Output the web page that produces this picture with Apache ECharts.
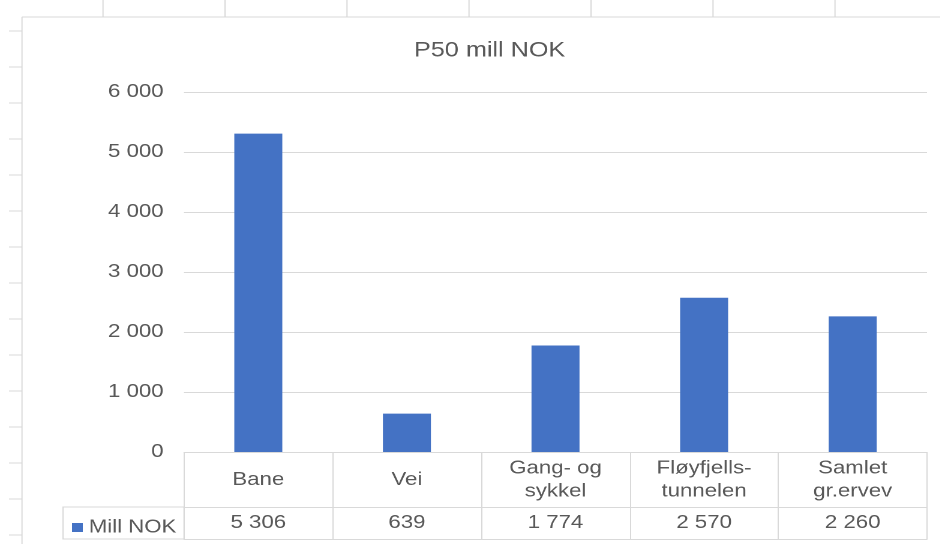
<!DOCTYPE html>
<html>
<head>
<meta charset="utf-8">
<title>P50 mill NOK</title>
<script src="https://cdn.jsdelivr.net/npm/echarts@6/dist/echarts.min.js"></script>
<style>
  html, body { margin: 0; padding: 0; background: #ffffff; overflow: hidden; }
  #wrap { width: 940px; height: 544px; overflow: hidden; position: relative; }
  #chart { position: absolute; left: 0; top: 0; height: 544px; transform-origin: 0 0; }
</style>
</head>
<body>
<div id="wrap"><div id="chart"></div></div>
<script>
// Categories (as wrapped in the data table), values and axis ticks
const categories = ['Bane', 'Vei', 'Gang- og\nsykkel', 'Fløyfjells-\ntunnelen', 'Samlet\ngr.ervev'];
const values = [5306, 639, 1774, 2570, 2260];
const seriesName = 'Mill NOK';
const chartTitle = 'P50 mill NOK';
const yTicks = [0, 1000, 2000, 3000, 4000, 5000, 6000];

// The sheet is drawn slightly wide: the canvas is rendered narrower and stretched horizontally
const SX = 1.2;
const W = 940 / SX;
const el = document.getElementById('chart');
el.style.width = W + 'px';
el.style.transform = 'scaleX(' + SX + ')';

const TEXT = '#595959';
const LINE = '#d9d9d9';
const FONT = '"Liberation Sans", Arial, sans-serif';
const fmt = v => String(v).replace(/\B(?=(\d{3})+(?!\d))/g, ' ');

// Plot and table geometry (unstretched pixels)
const plotLeft = 184 / SX, plotRight = 927 / SX;
const plotTop = 92, plotBottom = 452;
const row1 = 55, row2 = 32;           // table row heights
const legendLeft = 63 / SX;

// Sheet frame: chart border plus the worksheet ruler ticks around it
const frameX = 22 / SX, frameY = 17;
const graphics = [
  { type: 'line', silent: true, shape: { x1: frameX, y1: frameY, x2: W, y2: frameY }, style: { stroke: LINE, lineWidth: 1 } },
  { type: 'line', silent: true, shape: { x1: frameX, y1: frameY, x2: frameX, y2: 544 }, style: { stroke: LINE, lineWidth: 1 } },
  // legend cell of the data table
  { type: 'rect', silent: true,
    shape: { x: legendLeft, y: plotBottom + row1, width: plotLeft - legendLeft, height: row2 },
    style: { fill: 'none', stroke: LINE, lineWidth: 1 } }
];
for (let k = 0; k < 8; k++) {
  const x = (103 + 122 * k) / SX;
  graphics.push({ type: 'line', silent: true, shape: { x1: x, y1: 0, x2: x, y2: frameY }, style: { stroke: LINE, lineWidth: 1 } });
}
for (let k = 0; k < 15; k++) {
  const y = 31 + 36 * k;
  graphics.push({ type: 'line', silent: true, shape: { x1: 9 / SX, y1: y, x2: frameX, y2: y }, style: { stroke: LINE, lineWidth: 1 } });
}

const chart = echarts.init(el, null, { renderer: 'canvas', devicePixelRatio: 2 });

chart.setOption({
  backgroundColor: '#ffffff',
  animation: false,
  textStyle: { fontFamily: FONT },
  title: {
    text: chartTitle,
    left: 340,
    top: 35,
    textStyle: { color: TEXT, fontSize: 21, fontWeight: 'normal', fontFamily: FONT }
  },
  legend: {
    data: [seriesName],
    left: 60,
    top: plotBottom + row1 + 11,
    icon: 'rect',
    itemWidth: 9,
    itemHeight: 9,
    itemGap: 5,
    textStyle: { color: TEXT, fontSize: 18.5, fontFamily: FONT, padding: [0, 0, 0, 0] },
    padding: 0
  },
  grid: {
    left: plotLeft,
    width: plotRight - plotLeft,
    top: plotTop,
    height: plotBottom - plotTop,
    containLabel: false
  },
  xAxis: [
    {
      type: 'category',
      data: categories,
      position: 'bottom',
      axisLine: { show: true, lineStyle: { color: LINE, width: 1 } },
      axisTick: { show: true, alignWithLabel: false, length: row1 + row2, lineStyle: { color: LINE, width: 1 } },
      axisLabel: {
        interval: 0, margin: 28, verticalAlign: 'middle',
        color: TEXT, fontSize: 18.5, lineHeight: 23, fontFamily: FONT
      },
      splitLine: { show: false }
    },
    {
      type: 'category',
      data: values.map(fmt),
      position: 'bottom',
      offset: row1,
      axisLine: { show: true, lineStyle: { color: LINE, width: 1 } },
      axisTick: { show: false },
      axisLabel: {
        interval: 0, margin: 16, verticalAlign: 'middle',
        color: TEXT, fontSize: 18.5, fontFamily: FONT
      }
    },
    {
      type: 'category',
      data: categories,
      position: 'bottom',
      offset: row1 + row2,
      axisLine: { show: true, lineStyle: { color: LINE, width: 1 } },
      axisTick: { show: false },
      axisLabel: { show: false }
    }
  ],
  yAxis: {
    type: 'value',
    min: yTicks[0],
    max: yTicks[yTicks.length - 1],
    interval: yTicks[1] - yTicks[0],
    axisLine: { show: false },
    axisTick: { show: false },
    axisLabel: { color: TEXT, fontSize: 18.5, margin: 17, fontFamily: FONT, formatter: fmt },
    splitLine: { show: true, lineStyle: { color: LINE, width: 1 } }
  },
  series: [{
    name: seriesName,
    type: 'bar',
    xAxisIndex: 0,
    data: values,
    barWidth: 40,
    itemStyle: { color: '#4472C4' },
    label: { show: false }
  }],
  graphic: graphics
});
</script>
</body>
</html>
